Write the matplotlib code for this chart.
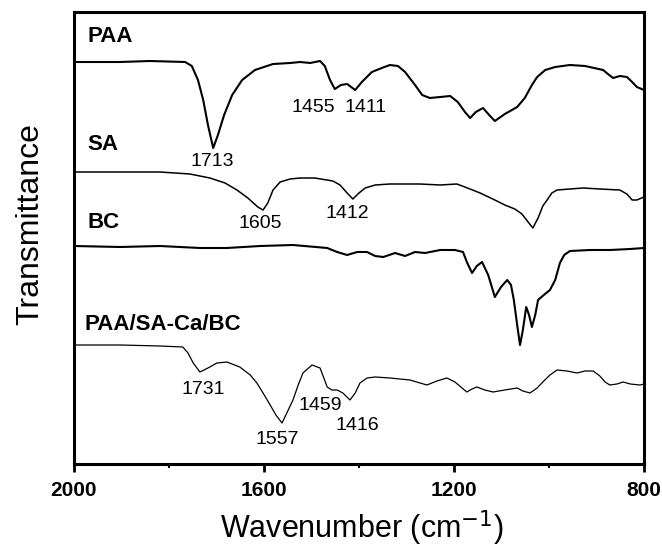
import matplotlib
matplotlib.use("Agg")
import matplotlib.pyplot as plt
from matplotlib.ticker import MultipleLocator

plt.rcParams['font.family'] = ['Liberation Sans', 'DejaVu Sans']

# ---- data (wavenumber in cm-1, transmittance in arbitrary units relative to each baseline) ----
paa_wn = [2000, 1903, 1840, 1766, 1752, 1739, 1728, 1718, 1707, 1697,
          1684, 1667, 1646, 1619, 1581, 1545, 1524, 1503, 1482, 1472,
          1461, 1451, 1438, 1425, 1408, 1394, 1373, 1352, 1335, 1318,
          1303, 1282, 1267, 1251, 1229, 1208, 1192, 1177, 1166, 1154,
          1139, 1126, 1114, 1093, 1067, 1051, 1036, 1025, 1008, 987,
          956, 924, 886, 876, 865, 851, 836, 825, 815, 800]
paa_t = [0, 0, 1, 0, -4, -18, -38, -63, -86, -73,
         -53, -33, -18, -8, -2, -1, 0, -1, 1, -4,
         -18, -27, -23, -22, -28, -20, -10, -6, -3, -4,
         -10, -23, -33, -36, -35, -34, -40, -50, -56, -50,
         -46, -53, -59, -52, -45, -36, -23, -15, -8, -5,
         -3, -4, -8, -12, -16, -14, -15, -20, -25, -28]

sa_wn = [2000, 1903, 1819, 1756, 1714, 1682, 1657, 1634, 1613, 1602,
         1592, 1581, 1566, 1545, 1524, 1493, 1455, 1440, 1425, 1413,
         1400, 1387, 1366, 1335, 1272, 1229, 1194, 1177, 1145, 1114,
         1093, 1072, 1057, 1044, 1034, 1023, 1013, 1004, 994, 983,
         956, 928, 893, 851, 836, 825, 815, 800]
sa_t = [0, 0, 0, -2, -6, -11, -18, -26, -35, -38,
        -31, -18, -10, -7, -6, -6, -9, -13, -21, -27,
        -21, -16, -13, -12, -12, -13, -12, -15, -21, -28,
        -33, -37, -42, -50, -56, -46, -34, -28, -21, -18,
        -17, -16, -17, -18, -22, -28, -28, -25]

bc_wn = [2000, 1903, 1819, 1735, 1678, 1608, 1539, 1467, 1446, 1425,
         1404, 1383, 1366, 1349, 1324, 1303, 1282, 1261, 1229, 1198,
         1181, 1173, 1162, 1152, 1141, 1128, 1114, 1101, 1088, 1080,
         1074, 1067, 1061, 1055, 1048, 1042, 1036, 1029, 1023, 1011,
         998, 987, 977, 968, 956, 914, 872, 829, 800]
bc_t = [0, -1, 0, -2, -2, 0, 1, -2, -6, -9,
        -6, -6, -10, -11, -7, -10, -6, -7, -4, -4,
        -6, -16, -27, -20, -16, -29, -51, -41, -34, -39,
        -54, -79, -99, -84, -61, -69, -81, -69, -54, -49,
        -44, -34, -17, -9, -5, -4, -4, -3, -2]

comp_wn = [2000, 1903, 1819, 1771, 1760, 1749, 1735, 1718, 1699, 1678,
           1651, 1629, 1615, 1602, 1587, 1575, 1562, 1552, 1539, 1528,
           1518, 1499, 1482, 1474, 1467, 1457, 1446, 1434, 1419, 1408,
           1398, 1383, 1366, 1335, 1314, 1293, 1257, 1236, 1215, 1198,
           1183, 1173, 1162, 1152, 1135, 1118, 1093, 1067, 1055, 1040,
           1025, 1013, 998, 983, 962, 941, 924, 907, 893, 882,
           872, 857, 844, 829, 808, 800]
comp_t = [0, 0, -1, -2, -8, -18, -27, -23, -18, -17,
          -22, -30, -38, -48, -60, -70, -78, -68, -55, -40,
          -28, -20, -23, -33, -42, -45, -45, -48, -55, -48,
          -38, -33, -32, -33, -34, -35, -40, -36, -33, -37,
          -43, -47, -44, -42, -45, -47, -45, -43, -46, -48,
          -43, -37, -30, -25, -26, -28, -26, -26, -31, -37,
          -40, -39, -37, -39, -40, -39]

names = ["PAA", "SA", "BC", "PAA/SA-Ca/BC"]
peak_labels = ["1713", "1455", "1411", "1605", "1412", "1731", "1557", "1459", "1416"]
x_ticks = [2000, 1600, 1200, 800]

# ---- layout / style ----
offsets = [402, 292, 218, 119]
widths = [1.5, 1.1, 1.5, 0.9]
name_pos = [(1971, 427), (1971, 319), (1971, 242), (1977, 140)]
peak_pos = [(1709, 303), (1497, 356), (1387, 356), (1608, 241), (1425, 251),
            (1728, 74), (1573, 25), (1482, 58), (1404, 39)]

fig = plt.figure(figsize=(6.62, 5.5), dpi=100)
ax = fig.add_axes([74 / 662, 1 - 464 / 550, 570 / 662, 452 / 550])

series = [(paa_wn, paa_t), (sa_wn, sa_t), (bc_wn, bc_t), (comp_wn, comp_t)]
for (wn, t), off, lw in zip(series, offsets, widths):
    ax.plot(wn, [v + off for v in t], color='black', lw=lw, solid_joinstyle='round')

for name, (x, y) in zip(names, name_pos):
    ax.text(x, y, name, fontsize=16, fontweight='bold', ha='left', va='center')

for lab, (x, y) in zip(peak_labels, peak_pos):
    ax.text(x, y, lab, fontsize=14, ha='center', va='center')

ax.set_xlim(2000, 800)
ax.set_ylim(0, 452)
ax.set_xticks(x_ticks)
ax.set_xticklabels([str(v) for v in x_ticks], fontsize=15, fontweight='bold')
ax.xaxis.set_minor_locator(MultipleLocator(200))
ax.tick_params(axis='x', which='major', direction='out', length=6, width=2, pad=6)
ax.tick_params(axis='x', which='minor', direction='out', length=3, width=1.5)
ax.set_yticks([])

for s in ax.spines.values():
    s.set_linewidth(2.2)

ax.set_xlabel("Wavenumber (cm$^{-1}$)", fontsize=22)
ax.xaxis.set_label_coords(0.505, -0.098)
ax.set_ylabel("Transmittance", fontsize=23)
ax.yaxis.set_label_coords(-0.05, 0.53)

fig.savefig("out.png", dpi=100)
